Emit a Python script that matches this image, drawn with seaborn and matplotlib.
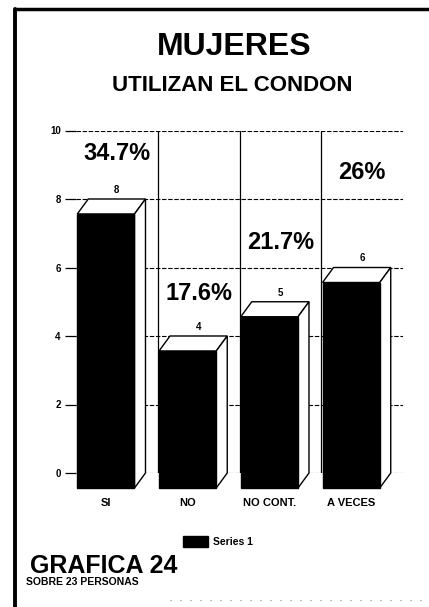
import matplotlib
matplotlib.use('Agg')
import matplotlib.pyplot as plt
from matplotlib.patches import Polygon, Patch
from matplotlib.lines import Line2D
import seaborn as sns

# Data
categories = ['SI', 'NO', 'NO CONT.', 'A VECES']
counts = [8, 4, 5, 6]
percents = [34.7, 17.6, 21.7, 26]
series_name = 'Series 1'
y_ticks = [0, 2, 4, 6, 8, 10]

# Layout / style constants
PCT_Y = [9.34, 5.23, 6.74, 8.76]      # height of the big percentage labels
DEPTH_X, DEPTH_Y = 11, 15              # 3D depth offset in pixels
BAR_WIDTH = 0.70
DPI = 100
FONT = ['Liberation Sans', 'DejaVu Sans']

sns.set_theme(style='white')
plt.rcParams['font.family'] = FONT
plt.rcParams['font.weight'] = 'bold'
plt.rcParams['text.color'] = 'black'
plt.rcParams['axes.labelcolor'] = 'black'
plt.rcParams['xtick.color'] = 'black'
plt.rcParams['ytick.color'] = 'black'

fig = plt.figure(figsize=(4.29, 6.07), dpi=DPI)
ax = fig.add_axes([76 / 429, 134 / 607, 327 / 429, 342.5 / 607])

sns.barplot(x=categories, y=counts, color='black', width=BAR_WIDTH,
            saturation=1, ax=ax, zorder=3)

ax.set_xlim(-0.5, 3.5)
ax.set_ylim(0, 10)
ax.set_yticks(y_ticks)
ax.set_xticks([])
ax.set_xlabel('')
ax.set_ylabel('')
for s in ax.spines.values():
    s.set_visible(False)
ax.tick_params(axis='y', length=8, width=0.9, color='black', pad=3,
               labelsize=7, labelcolor='black', left=True)
for lab in ax.get_yticklabels():
    lab.set_fontweight('bold')
ax.grid(axis='y', color='black', linestyle=(0, (4, 1.5)), linewidth=0.8, zorder=0)
ax.grid(axis='x', visible=False)
ax.set_axisbelow(True)
for b in [0.5, 1.5, 2.5]:
    ax.axvline(b, color='black', linewidth=0.9, zorder=1)

# depth offset in data units
inv = ax.transData.inverted()
p0 = inv.transform((0, 0))
p1 = inv.transform((DEPTH_X, DEPTH_Y))
ddx, ddy = p1[0] - p0[0], p1[1] - p0[1]

bars = ax.containers[0]
ax.bar_label(bars, labels=[str(c) for c in counts], padding=3,
             fontsize=7, fontweight='bold', color='black')

for i, patch in enumerate(bars.patches):
    x0, w, h = patch.get_x(), patch.get_width(), patch.get_height()
    # top face
    top = Polygon([(x0 - ddx, h - ddy), (x0 + w - ddx, h - ddy),
                   (x0 + w, h), (x0, h)],
                  closed=True, facecolor='white', edgecolor='black',
                  linewidth=1.0, zorder=4, clip_on=False)
    # side face
    side = Polygon([(x0 + w - ddx, -ddy), (x0 + w, 0),
                    (x0 + w, h), (x0 + w - ddx, h - ddy)],
                   closed=True, facecolor='white', edgecolor='black',
                   linewidth=1.0, zorder=4, clip_on=False)
    ax.add_patch(top)
    ax.add_patch(side)
    # front face
    patch.set_x(x0 - ddx)
    patch.set_y(-ddy)
    patch.set_clip_on(False)
    patch.set_edgecolor('black')
    patch.set_zorder(5)
    # category label under the front face
    ax.annotate(categories[i], xy=(x0 + w / 2 - ddx, -ddy), xytext=(0, -7),
                textcoords='offset points', ha='center', va='top',
                fontsize=8, fontweight='bold', color='black',
                annotation_clip=False)
    # big percentage label
    ax.text(x0 + w / 2, PCT_Y[i], f'{percents[i]:g}%', ha='center',
            va='center', fontsize=17, fontweight='bold', color='black',
            zorder=6)

# titles
fig.text(0.545, 1 - 47 / 607, 'MUJERES', ha='center', va='center',
         fontsize=23, fontweight='bold', color='black')
fig.text(0.542, 1 - 85.5 / 607, 'UTILIZAN EL CONDON', ha='center',
         va='center', fontsize=16, fontweight='bold', color='black')

# legend
fig.legend(handles=[Patch(facecolor='black', edgecolor='black', label=series_name)],
           loc='center left', bbox_to_anchor=(183 / 429, 1 - 541.5 / 607),
           frameon=False, handlelength=2.4, handleheight=1.3,
           handletextpad=0.5, borderpad=0, borderaxespad=0,
           labelcolor='black', prop={'weight': 'bold', 'size': 7.5})

# footer
fig.text(30 / 429, 1 - 573 / 607, 'GRAFICA 24', ha='left', va='baseline',
         fontsize=18, fontweight='bold', color='black')
fig.text(26 / 429, 1 - 585 / 607, 'SOBRE 23 PERSONAS', ha='left',
         va='baseline', fontsize=7.5, fontweight='bold', color='black')

# scanned page frame
fig.add_artist(Line2D([15 / 429, 1.0], [1 - 9 / 607, 1 - 9 / 607],
                      color='black', linewidth=2.5))
fig.add_artist(Line2D([15 / 429, 15 / 429], [0, 1 - 9 / 607],
                      color='black', linewidth=2.8))
fig.add_artist(Line2D([170 / 429, 1.0], [1 - 600 / 607, 1 - 600 / 607],
                      color='#888888', linewidth=0.8, linestyle=(0, (1, 8))))

fig.savefig('out.png', dpi=DPI)
